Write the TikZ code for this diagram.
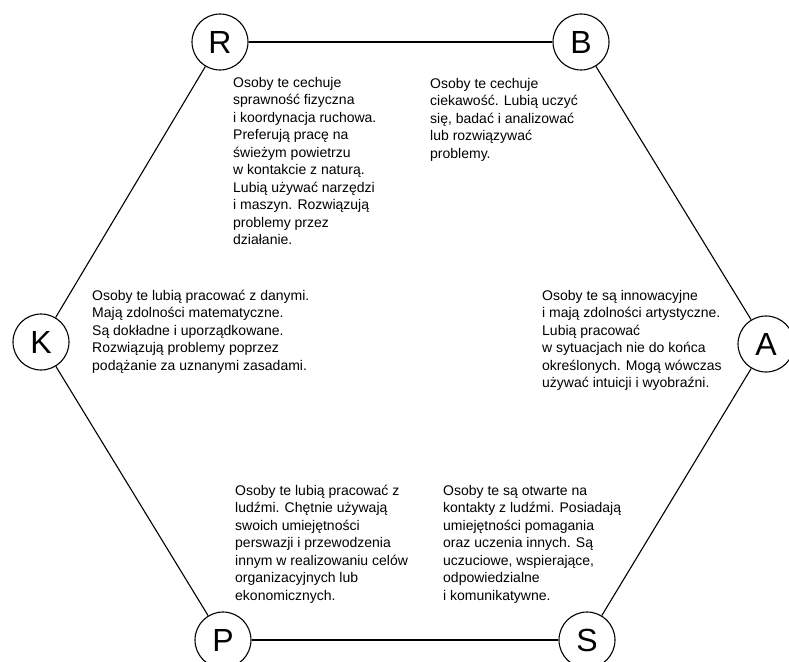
\documentclass[tikz,border=0pt]{standalone}
\usepackage{fontspec}
\setmainfont{Liberation Sans}
\begin{document}
\begin{tikzpicture}[x=1pt,y=-1pt,
    typ/.style={circle, draw, line width=1.1pt, minimum size=56pt, inner sep=0pt,
      font=\fontsize{32}{36}\selectfont},
    opis/.style={anchor=north west, inner sep=0pt, align=left,
      font=\fontsize{14}{17.5}\selectfont}]
    \useasboundingbox (0,0) rectangle (789,661);
    % typy osobowosci
    \node[typ] (R) at (220,42) {R};
    \node[typ] (B) at (581,42) {B};
    \node[typ] (A) at (766,344) {A};
    \node[typ] (S) at (587,640) {S};
    \node[typ] (P) at (223,640) {P};
    \node[typ] (K) at (41,342) {K};
    \foreach \a/\b in {R/B,B/A,A/S,S/P,P/K,K/R}
    \draw[line width=1.1pt] (\a) -- (\b);
    % opisy
    \node[opis] (oR) at (233,75) {\strut Osoby te cechuje\\sprawność fizyczna\\i koordynacja ruchowa.\\Preferują pracę na\\świeżym powietrzu\\w kontakcie z naturą.\\Lubią używać narzędzi\\i maszyn. Rozwiązują\\problemy przez\\działanie.};
    \node[opis] (oB) at (430,76) {\strut Osoby te cechuje\\ciekawość. Lubią uczyć\\się, badać i analizować\\lub rozwiązywać\\problemy.};
    \node[opis] (oK) at (92,288) {\strut Osoby te lubią pracować z danymi.\\Mają zdolności matematyczne.\\Są dokładne i uporządkowane.\\Rozwiązują problemy poprzez\\podążanie za uznanymi zasadami.};
    \node[opis] (oA) at (542,288) {\strut Osoby te są innowacyjne\\i mają zdolności artystyczne.\\Lubią pracować\\w sytuacjach nie do końca\\określonych. Mogą wówczas\\używać intuicji i wyobraźni.};
    \node[opis] (oP) at (235,483) {\strut Osoby te lubią pracować z\\ludźmi. Chętnie używają\\swoich umiejętności\\perswazji i przewodzenia\\innym w realizowaniu celów\\organizacyjnych lub\\ekonomicznych.};
    \node[opis] (oS) at (443,483) {\strut Osoby te są otwarte na\\kontakty z ludźmi. Posiadają\\umiejętności pomagania\\oraz uczenia innych. Są\\uczuciowe, wspierające,\\odpowiedzialne\\i komunikatywne.};
\end{tikzpicture}
\end{document}
